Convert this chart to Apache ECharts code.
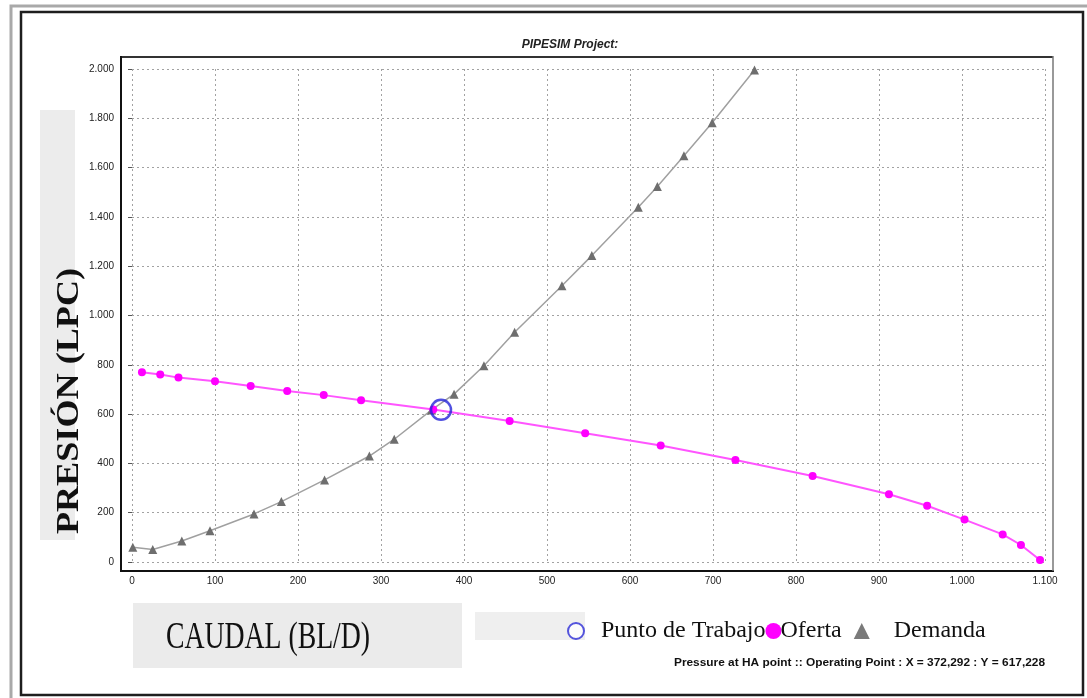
<!DOCTYPE html>
<html>
<head>
<meta charset="utf-8">
<style>
  html, body { margin: 0; padding: 0; background: #ffffff; }
  #chart { width: 1087px; height: 698px; }
</style>
<script src="https://cdn.jsdelivr.net/npm/echarts@6/dist/echarts.min.js"></script>
</head>
<body>
<div id="chart"></div>
<script>
// Nodal analysis: inflow (Oferta) vs outflow (Demanda) curves
const titleText = 'PIPESIM Project:';
const yTitle = 'PRESIÓN (LPC)';
const xTitle = 'CAUDAL (BL/D)';
const seriesNames = ['Punto de Trabajo', 'Oferta', 'Demanda'];

// Oferta (IPR) points: caudal, presión
const ofertaX = [12, 34, 56, 100, 143, 187, 231, 276, 363, 455, 546, 637, 727, 820, 912, 958, 1003, 1049, 1071, 1094];
const ofertaY = [770, 761, 748, 733, 714, 694, 677, 656, 619, 572, 522, 473, 414, 349, 275, 228, 172, 112, 69, 8];

// Demanda (outflow) points: caudal, presión
const demandaX = [1, 25, 60, 94, 147, 180, 232, 286, 316, 361, 388, 424, 461, 518, 554, 610, 633, 665, 699, 750];
const demandaY = [60, 51, 85, 127, 195, 245, 333, 430, 498, 617, 681, 796, 932, 1121, 1243, 1439, 1523, 1648, 1782, 1996];

// Operating point
const opX = 372.292;
const opY = 617.228;

// Axis ranges and ticks
const xMin = 0, xMax = 1100, xStep = 100;
const yMin = 0, yMax = 2000, yStep = 200;

const fmtNum = (v, dec) => {
  const parts = v.toFixed(dec).split('.');
  const intPart = parts[0].replace(/\B(?=(\d{3})+(?!\d))/g, '.');
  return parts.length > 1 ? intPart + ',' + parts[1] : intPart;
};
const footerText = 'Pressure at HA point :: Operating Point : X = ' + fmtNum(opX, 3) + ' : Y = ' + fmtNum(opY, 3);

const ofertaData = ofertaX.map((x, i) => [x, ofertaY[i]]);
const demandaData = demandaX.map((x, i) => [x, demandaY[i]]);

const chart = echarts.init(document.getElementById('chart'), null, { renderer: 'canvas' });

const gridStyle = { color: '#a2a2a2', width: 1, type: [2, 3] };
const serif = '"Liberation Serif", "DejaVu Serif", serif';
const sans = '"Liberation Sans", Arial, sans-serif';

chart.setOption({
  backgroundColor: '#ffffff',
  animation: false,
  title: {
    text: titleText,
    left: 565,
    top: 34,
    textAlign: 'center',
    textStyle: { fontFamily: sans, fontSize: 12, fontWeight: 'bold', fontStyle: 'italic', color: '#222' }
  },
  grid: { left: 132, right: 42, top: 69, bottom: 136, containLabel: false },
  xAxis: {
    type: 'value',
    min: xMin, max: xMax, interval: xStep,
    offset: 9,
    axisLine: { show: false },
    axisTick: { show: false },
    splitLine: { show: true, lineStyle: gridStyle },
    axisLabel: {
      margin: 5,
      fontFamily: sans, fontSize: 10, color: '#222',
      formatter: v => fmtNum(v, 0)
    }
  },
  yAxis: {
    type: 'value',
    min: yMin, max: yMax, interval: yStep,
    offset: 11,
    axisLine: { show: false },
    axisTick: { show: true, length: 4, lineStyle: { color: '#555' } },
    splitLine: { show: true, lineStyle: gridStyle },
    axisLabel: {
      margin: 7,
      fontFamily: sans, fontSize: 10, color: '#222',
      formatter: v => fmtNum(v, 0)
    }
  },
  legend: {
    left: 562,
    top: 614,
    itemGap: 0,
    itemWidth: 16,
    itemHeight: 16,
    // a little extra room after "Oferta" before the next marker
    formatter: name => (name === seriesNames[1] ? name + '  ' : name),
    textStyle: { fontFamily: serif, fontSize: 24, color: '#111' },
    data: [
      { name: seriesNames[0], icon: 'circle', itemStyle: { color: '#ffffff', borderColor: '#2b2bd6', borderWidth: 2 },
        textStyle: { padding: [0, 0, 0, 12] } },
      { name: seriesNames[1], icon: 'circle', itemStyle: { color: '#ff00ff' },
        textStyle: { padding: [0, 0, 0, -6] } },
      { name: seriesNames[2], icon: 'triangle', itemStyle: { color: '#7a7a7a' },
        textStyle: { padding: [0, 0, 0, 19] } }
    ]
  },
  series: [
    {
      name: seriesNames[2],
      type: 'line',
      data: demandaData,
      symbol: 'triangle',
      symbolSize: 9,
      showSymbol: true,
      lineStyle: { color: '#a0a0a0', width: 1.5 },
      itemStyle: { color: '#6e6e6e' },
      z: 3
    },
    {
      name: seriesNames[1],
      type: 'line',
      data: ofertaData,
      symbol: 'circle',
      symbolSize: 8,
      showSymbol: true,
      lineStyle: { color: '#ff55ff', width: 2 },
      itemStyle: { color: '#ff00ff' },
      z: 4
    },
    {
      name: seriesNames[0],
      type: 'scatter',
      data: [[opX, opY]],
      symbol: 'circle',
      symbolSize: 20,
      itemStyle: { color: 'rgba(0,0,0,0)', borderColor: '#2424d8', borderWidth: 2.5 },
      z: 6
    }
  ],
  graphic: [
    // outer picture border
    { type: 'rect', shape: { x: 11, y: 6, width: 1090, height: 700 }, style: { fill: null, stroke: '#a9a9a9', lineWidth: 3 }, z: 1 },
    { type: 'rect', shape: { x: 21, y: 12, width: 1062, height: 683 }, style: { fill: null, stroke: '#1e1e1e', lineWidth: 2.5 }, z: 1 },
    // light panels behind the axis titles
    { type: 'rect', shape: { x: 40, y: 110, width: 35, height: 430 }, style: { fill: '#ececec' }, z: 0 },
    { type: 'rect', shape: { x: 133, y: 603, width: 329, height: 65 }, style: { fill: '#ebebeb' }, z: 0 },
    { type: 'rect', shape: { x: 475, y: 612, width: 110, height: 28 }, style: { fill: '#efefef' }, z: 0 },
    // axis titles
    {
      type: 'text', x: 70, y: 401, rotation: Math.PI / 2, scaleX: 1.13, z: 2,
      style: { text: yTitle, fontFamily: serif, fontSize: 32, fontWeight: 'bold', fill: '#111', align: 'center', verticalAlign: 'middle' }
    },
    {
      type: 'text', x: 268, y: 638, scaleX: 0.73, z: 2,
      style: { text: xTitle, fontFamily: serif, fontSize: 38, fill: '#111', align: 'center', verticalAlign: 'middle' }
    },
    // footer status line
    {
      type: 'text', x: 1045, y: 663, scaleX: 1.08, z: 2,
      style: { text: footerText, fontFamily: sans, fontSize: 11, fontWeight: 'bold', fill: '#111', align: 'right', verticalAlign: 'middle' }
    },
    // plot frame
    { type: 'line', shape: { x1: 121, y1: 57, x2: 1053, y2: 57 }, style: { stroke: '#333', lineWidth: 2 }, z: 10 },
    { type: 'line', shape: { x1: 121, y1: 56, x2: 121, y2: 571 }, style: { stroke: '#111', lineWidth: 2 }, z: 10 },
    { type: 'line', shape: { x1: 120, y1: 571, x2: 1054, y2: 571 }, style: { stroke: '#111', lineWidth: 2 }, z: 10 },
    { type: 'line', shape: { x1: 1053, y1: 56, x2: 1053, y2: 571 }, style: { stroke: '#777', lineWidth: 1.5 }, z: 10 }
  ]
});
</script>
</body>
</html>
